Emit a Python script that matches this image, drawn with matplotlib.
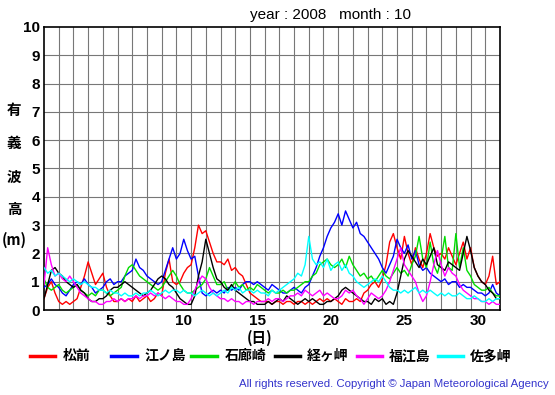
import numpy as np
import matplotlib
matplotlib.use("Agg")
import matplotlib.pyplot as plt
from matplotlib.lines import Line2D

plt.rcParams['font.family'] = ['Liberation Sans', 'Noto Sans CJK JP', 'DejaVu Sans']

# 6-hourly significant wave height (m), Oct 2008, days 1..31 (+ final point)
matsumae = [0.4, 0.8, 1.0, 0.6, 0.3, 0.2, 0.3, 0.2, 0.3, 0.4, 0.8, 1.2,
            1.7, 1.3, 0.9, 1.1, 1.3, 0.8, 0.5, 0.3, 0.3, 0.4, 0.3, 0.4,
            0.3, 0.5, 0.3, 0.4, 0.5, 0.3, 0.4, 0.6, 0.5, 1.3, 1.8, 1.0,
            0.9, 1.0, 1.3, 1.5, 1.6, 2.2, 3.0, 2.7, 2.8, 2.4, 2.0, 1.7,
            1.7, 1.6, 1.8, 1.4, 1.5, 1.3, 1.2, 0.9, 0.6, 0.5, 0.4, 0.3,
            0.3, 0.3, 0.2, 0.3, 0.3, 0.2, 0.3, 0.3, 0.2, 0.3, 0.3, 0.2,
            0.3, 0.2, 0.3, 0.4, 0.3, 0.4, 0.3, 0.4, 0.3, 0.2, 0.4, 0.3,
            0.3, 0.4, 0.3, 0.6, 0.7, 0.9, 1.0, 0.8, 1.1, 1.6, 2.4, 2.7,
            2.2, 1.8, 2.6, 2.0, 1.6, 2.2, 1.8, 1.5, 2.0, 2.7, 2.2, 1.9,
            2.0, 1.8, 2.2, 1.9, 1.6, 2.0, 2.4, 1.8, 2.2, 1.5, 1.2, 1.0,
            0.9, 1.2, 1.9, 0.9, 1.0]
enoshima = [0.8, 0.9, 1.1, 0.9, 0.8, 0.6, 0.5, 0.7, 0.9, 1.0, 0.9, 1.1,
            0.9, 0.8, 0.6, 0.7, 0.8, 1.0, 1.1, 0.9, 1.0, 1.0, 1.2, 1.3,
            1.4, 1.8, 1.5, 1.4, 1.2, 1.1, 1.0, 0.9, 1.0, 1.4, 1.8, 2.2,
            1.8, 2.0, 2.5, 2.1, 1.8, 1.9, 1.2, 0.6, 0.5, 0.6, 0.7, 0.6,
            0.7, 0.6, 0.8, 0.7, 0.8, 0.7, 0.9, 1.0, 1.0, 0.9, 1.0, 0.9,
            0.8, 0.7, 0.9, 0.8, 0.7, 0.6, 0.6, 0.7, 0.8, 0.7, 0.6, 0.8,
            0.9, 1.2, 1.5, 1.9, 2.2, 2.6, 2.9, 3.1, 3.4, 3.0, 3.5, 3.2,
            2.9, 3.1, 2.7, 2.6, 2.4, 2.2, 2.0, 1.8, 1.5, 1.3, 1.6, 1.9,
            2.5, 2.2, 2.0, 2.3, 1.8, 2.1, 1.6, 1.4, 1.5, 1.3, 1.2, 1.1,
            1.0, 1.1, 0.9, 1.0, 1.0, 0.8, 0.9, 0.8, 0.8, 0.7, 0.6, 0.6,
            0.5, 0.6, 0.9, 0.6, 0.5]
irozaki = [1.1, 0.8, 0.7, 0.8, 0.9, 0.7, 0.6, 0.7, 0.8, 0.9, 0.7, 0.6,
           0.5, 0.6, 0.5, 0.7, 0.7, 0.6, 0.5, 0.6, 0.7, 0.8, 1.2, 1.5,
           1.6, 1.4, 1.2, 1.1, 1.0, 0.9, 0.8, 0.7, 0.8, 1.0, 1.2, 1.4,
           1.2, 0.9, 0.7, 0.6, 0.6, 0.7, 0.8, 0.9, 1.1, 1.5, 1.2, 0.9,
           0.9, 1.0, 0.7, 0.8, 1.0, 0.8, 0.9, 0.7, 0.8, 0.7, 0.9, 0.8,
           0.7, 0.6, 0.7, 0.6, 0.6, 0.7, 0.6, 0.7, 0.7, 0.8, 0.9, 1.0,
           1.0, 1.2, 1.3, 1.6, 1.7, 1.8, 1.6, 1.5, 1.6, 1.8, 1.5, 1.9,
           1.6, 1.4, 1.2, 1.3, 1.1, 1.2, 1.0, 1.2, 1.4, 1.2, 1.1, 1.3,
           1.5, 1.3, 1.4, 1.2, 1.6, 1.9, 2.6, 1.8, 1.5, 2.4, 1.6, 1.3,
           1.8, 2.6, 1.5, 1.4, 2.7, 1.5, 2.2, 1.4, 1.2, 0.9, 0.8, 0.7,
           0.7, 0.8, 0.6, 0.5, 0.5]
kyogamisaki = [0.4, 0.9, 1.4, 1.5, 1.3, 1.2, 1.0, 0.9, 0.8, 0.9, 0.7, 0.6,
               0.4, 0.3, 0.3, 0.4, 0.4, 0.5, 0.7, 0.8, 0.8, 0.9, 1.0, 0.9,
               0.8, 0.7, 0.6, 0.5, 0.6, 0.7, 0.9, 1.1, 1.2, 1.1, 0.9, 0.8,
               0.6, 0.4, 0.3, 0.2, 0.2, 0.5, 1.2, 1.7, 2.5, 2.0, 1.5, 1.1,
               1.0, 0.8, 0.7, 0.9, 0.7, 0.6, 0.5, 0.4, 0.3, 0.3, 0.2, 0.2,
               0.2, 0.3, 0.2, 0.3, 0.4, 0.3, 0.5, 0.4, 0.3, 0.2, 0.3, 0.4,
               0.3, 0.4, 0.3, 0.2, 0.2, 0.3, 0.3, 0.4, 0.5, 0.7, 0.8, 0.7,
               0.6, 0.5, 0.4, 0.3, 0.3, 0.2, 0.4, 0.3, 0.4, 0.2, 0.3, 0.2,
               0.6, 1.2, 1.8, 2.1, 1.9, 1.7, 1.5, 1.8, 1.6, 1.9, 2.2, 1.6,
               1.5, 1.4, 1.7, 1.6, 1.5, 1.4, 2.0, 2.6, 2.1, 1.5, 1.2, 1.0,
               0.9, 0.7, 0.6, 0.4, 0.4]
fukuejima = [0.9, 2.2, 1.6, 1.2, 1.3, 1.1, 1.0, 1.2, 1.0, 0.8, 0.6, 0.5,
             0.4, 0.3, 0.3, 0.2, 0.2, 0.3, 0.3, 0.4, 0.3, 0.4, 0.3, 0.4,
             0.4, 0.5, 0.4, 0.5, 0.5, 0.6, 0.5, 0.6, 0.5, 0.4, 0.5, 0.4,
             0.3, 0.3, 0.2, 0.2, 0.4, 0.7, 1.0, 1.2, 1.1, 0.8, 0.6, 0.5,
             0.4, 0.4, 0.3, 0.4, 0.3, 0.3, 0.2, 0.3, 0.3, 0.2, 0.3, 0.3,
             0.3, 0.4, 0.3, 0.4, 0.4, 0.3, 0.4, 0.5, 0.5, 0.6, 0.5, 0.7,
             0.6, 0.5, 0.6, 0.7, 0.5, 0.6, 0.5, 0.4, 0.4, 0.5, 0.7, 0.6,
             0.7, 0.5, 0.4, 0.2, 0.4, 0.6, 0.5, 0.4, 0.5, 0.7, 1.0, 1.4,
             1.8, 2.2, 1.6, 1.4, 1.2, 1.0, 0.6, 0.3, 0.5, 1.0, 1.6, 2.1,
             1.6, 1.2, 1.5, 1.3, 1.2, 0.9, 0.7, 0.6, 0.5, 0.4, 0.4, 0.3,
             0.3, 0.2, 0.3, 0.2, 0.2]
satamisaki = [1.5, 1.3, 1.4, 1.2, 1.3, 1.2, 1.1, 1.0, 1.1, 1.0, 0.9, 1.0,
              0.9, 0.8, 0.8, 0.7, 0.7, 0.6, 0.7, 0.6, 0.6, 0.5, 0.6, 0.5,
              0.5, 0.6, 0.5, 0.6, 0.6, 0.7, 0.6, 0.5, 0.6, 0.7, 0.6, 0.7,
              0.7, 0.6, 0.7, 0.6, 0.6, 0.5, 0.6, 0.7, 0.6, 0.5, 0.6, 0.5,
              0.6, 0.7, 0.6, 0.8, 0.7, 0.8, 0.6, 0.7, 0.7, 0.6, 0.7, 0.6,
              0.6, 0.5, 0.7, 0.6, 0.7, 0.8, 0.9, 1.0, 1.1, 1.3, 1.2, 1.6,
              2.6, 1.8, 1.6, 1.7, 1.5, 1.8, 1.4, 1.6, 1.7, 1.4, 1.6, 1.3,
              1.2, 1.0, 0.9, 0.8, 0.9, 1.0, 1.1, 1.0, 1.2, 1.0, 0.8, 0.7,
              0.7, 0.6, 0.7, 0.6, 0.7, 0.8, 0.6, 0.7, 0.6, 0.7, 0.6, 0.5,
              0.6, 0.5, 0.6, 0.5, 0.5, 0.6, 0.5, 0.4, 0.4, 0.5, 0.4, 0.3,
              0.3, 0.4, 0.3, 0.4, 0.4]

stations = ['松前', '江ノ島', '石廊崎', '経ヶ岬', '福江島', '佐多岬']
series = [matsumae, enoshima, irozaki, kyogamisaki, fukuejima, satamisaki]
colors = ['#ff0000', '#0000ff', '#00dd00', '#000000', '#ff00ff', '#00ffff']
xtick_days = [5, 10, 15, 20, 25, 30]
ytick_vals = list(range(0, 11))

W, H = 555, 395
fig = plt.figure(figsize=(W / 100, H / 100), dpi=100)
L, R, T, B = 44, 500, 27, 310
ax = fig.add_axes([L / W, 1 - B / H, (R - L) / W, (B - T) / H])

t = np.arange(len(matsumae)) * 0.25
for s, c in zip(series, colors):
    ax.plot(t, s, color=c, lw=1.0, zorder=3)

ax.set_xlim(0, 31)
ax.set_ylim(0, 10)
for d in range(1, 31):
    ax.axvline(d, color='#777777', lw=0.8, zorder=1)
for v in range(1, 10):
    ax.axhline(v, color='#777777', lw=0.8, zorder=1)
ax.set_xticks([d - 0.5 for d in xtick_days])
ax.set_xticklabels([str(d) for d in xtick_days], fontsize=11, fontweight='bold')
ax.set_yticks(ytick_vals)
ax.set_yticklabels([str(v) for v in ytick_vals], fontsize=11, fontweight='bold')
ax.tick_params(length=0, pad=3)
for sp in ax.spines.values():
    sp.set_linewidth(1.2)

fig.text(331 / W, 1 - 15 / H, 'year : 2008   month : 10', ha='center', va='center', fontsize=11)
fig.text(260 / W, 1 - 338 / H, '(日)', ha='center', va='center', fontsize=10.5, fontweight='bold',
         family=['Noto Sans CJK JP'])
for ch, yy in zip(['有', '義', '波', '高', '(m)'], [110, 143, 177, 209, 240]):
    fig.text(14 / W, 1 - yy / H, ch, ha='center', va='center', fontsize=10.5, fontweight='bold',
             family=['Noto Sans CJK JP'])

leg_x = [(30, 55, 63), (111, 137, 144), (191, 217, 225), (275, 300, 307), (357, 382, 389), (438, 463, 470)]
ly = 1 - 356 / H
for (x0, x1, xt), name, c in zip(leg_x, stations, colors):
    fig.add_artist(Line2D([x0 / W, x1 / W], [ly, ly], color=c, lw=2.5))
    fig.text(xt / W, ly, name, ha='left', va='center', fontsize=10, fontweight='bold',
             family=['Noto Sans CJK JP'])

fig.text(549 / W, 1 - 384 / H, 'All rights reserved. Copyright © Japan Meteorological Agency',
         ha='right', va='center', fontsize=8.2, color='#3333cc')

fig.savefig('out.png', dpi=100)
